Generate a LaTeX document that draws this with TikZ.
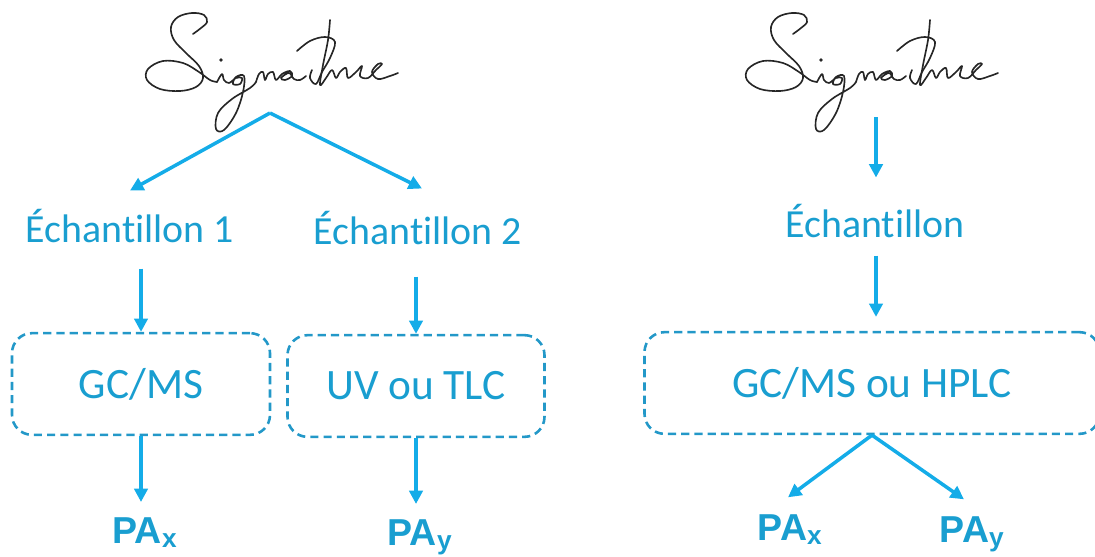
\documentclass[tikz,border=0pt]{standalone}
\usepackage{fontspec}
\setmainfont{Carlito}[Ligatures={NoCommon,NoContextual}]
\newfontfamily\pafont{Liberation Sans}
\usetikzlibrary{positioning}
\usetikzlibrary{arrows.meta}

\definecolor{textblue}{RGB}{25,158,208}
\definecolor{arrowblue}{RGB}{20,172,232}
\definecolor{boxblue}{RGB}{35,152,200}

\begin{document}
\begin{tikzpicture}[x=0.03cm,y=-0.03cm,
	>={Triangle[width=0.4cm,length=0.4cm]},
	flow/.style={->,draw=arrowblue,line width=3pt},
	sample/.style={anchor=base,inner sep=0pt,text=textblue,font=\fontsize{34}{40}\selectfont},
	method box/.style={draw=boxblue,dash pattern=on 7pt off 4.3pt,line width=2.2pt,
		rounded corners=0.6cm,text=textblue,font=\fontsize{37}{44}\selectfont,
		minimum height=3.05cm},
	result/.style={anchor=base,inner sep=0pt,text=textblue,font=\pafont\bfseries\fontsize{32}{38}\selectfont},
	ink/.style={draw=black!85,line width=1.4pt,line cap=round,line join=round},
	signature/.pic={
		% S
		\draw[ink] plot[smooth,tension=0.6] coordinates {(-77,-79) (-69,-85) (-63,-91) (-66,-98) (-78,-100) (-92,-96) (-99,-86) (-96,-73) (-84,-60) (-71,-47) (-67,-35) (-74,-26) (-90,-22) (-110,-24) (-123,-33) (-122,-44) (-107,-52) (-87,-50) (-71,-41) (-60,-33) (-53,-31)};
		% i and g
		\draw[ink] plot[smooth,tension=0.6] coordinates {(-53,-31) (-48,-39) (-46,-33) (-41,-30) (-34,-35) (-28,-35) (-30,-29) (-37,-29) (-34,-36) (-26,-37) (-27,-21) (-34,0) (-46,17) (-54,16) (-52,0) (-38,-14) (-20,-25) (-14,-31)};
		\fill[black!85] (-49,-53) circle (1.8);
		% n a
		\draw[ink] plot[smooth,tension=0.6] coordinates {(-14,-31) (-11,-39) (-7,-41) (-5,-33) (-2,-39) (3,-41) (6,-33) (12,-39) (20,-42) (22,-37) (15,-33) (11,-35) (19,-40) (24,-34) (30,-33) (36,-37)};
		% t loop
		\draw[ink] plot[smooth,tension=0.6] coordinates {(27,-62) (40,-72) (55,-76) (65,-71) (60,-55) (52,-41) (46,-29) (40,-35) (42,-43)};
		% ure
		\draw[ink] plot[smooth,tension=0.6] coordinates {(60,-93) (58,-73) (53,-48) (50,-28) (56,-35) (62,-43) (66,-35) (70,-41) (76,-45) (78,-35) (86,-41) (92,-47) (90,-37) (98,-35) (106,-43) (112,-49) (108,-49) (102,-41) (108,-34) (120,-37) (128,-40)};
	}]

	\clip (0,0) rectangle (1095,556);

	% left: two samples
	\pic at (270,113) {signature};
	\coordinate (sigL) at (270,113);
	\node[sample] (e1) at (130,242) {Échantillon 1};
	\node[sample] (e2) at (418,244) {Échantillon 2};
	\node[method box, minimum width=7.74cm] (box1) at (141,384) {GC/MS};
	\node[method box, minimum width=7.71cm] (box2) at (416,386) {UV ou TLC};
	\node[result] (pax1) at (145,543) {PA\textsubscript{x}};
	\node[result] (pay1) at (420,545) {PA\textsubscript{y}};

	\draw[flow] (sigL) -- ([yshift=0.54cm]e1.north);
	\draw[flow] (sigL) -- ([xshift=0.12cm,yshift=0.66cm]e2.north);
	\draw[flow, shorten <=0.78cm] (e1.south -| box1.north) -- (box1.north);
	\draw[flow, shorten <=0.96cm] (e2.south -| box2.north) -- (box2.north);
	\draw[flow] (box1.south) -- ([yshift=0.45cm]pax1.north -| box1.south);
	\draw[flow] (box2.south) -- ([yshift=0.45cm]pay1.north -| box2.south);

	% right: one sample
	\pic at (870,113) {signature};
	\coordinate (sigR) at (876,117);
	\node[sample] (e3) at (875,237) {Échantillon};
	\node[method box, minimum width=13.65cm] (box3) at (872,383) {GC/MS ou HPLC};
	\node[result] (pax2) at (790,540) {PA\textsubscript{x}};
	\node[result] (pay2) at (972,542) {PA\textsubscript{y}};

	\draw[flow] (sigR) -- ([yshift=0.78cm]e3.north -| sigR);
	\draw[flow, shorten <=0.54cm, shorten >=0.42cm] (e3.south -| sigR) -- (box3.north -| sigR);
	\draw[flow] (box3.south) -- ([xshift=-0.06cm,yshift=0.5cm]pax2.north);
	\draw[flow] (box3.south) -- ([xshift=-0.24cm,yshift=0.5cm]pay2.north);
\end{tikzpicture}
\end{document}
